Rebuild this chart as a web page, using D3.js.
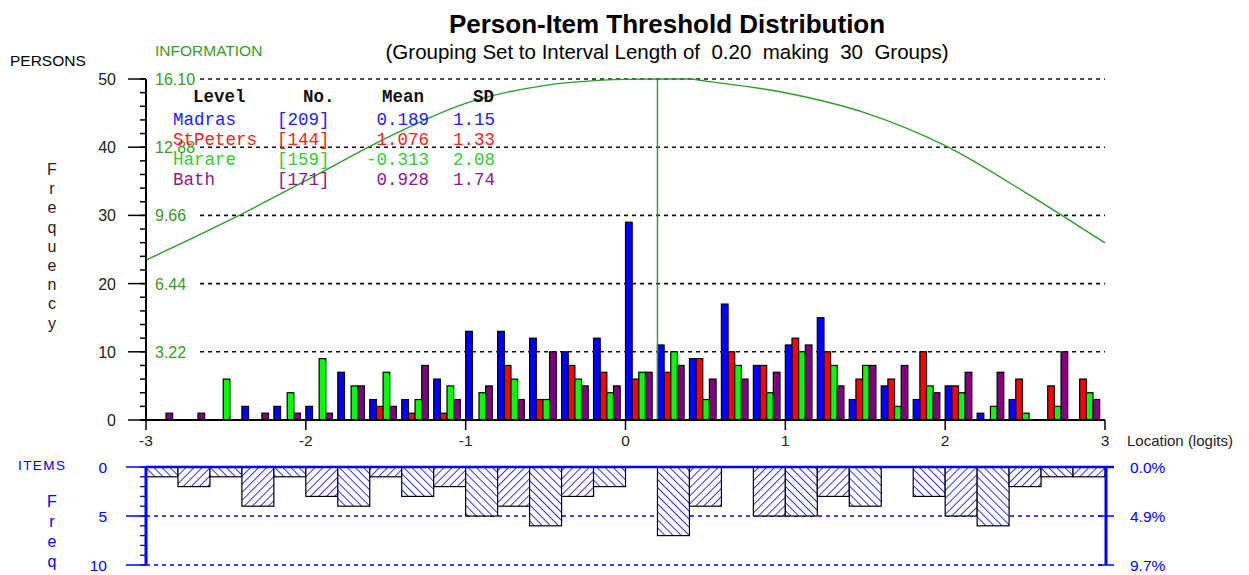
<!DOCTYPE html>
<html>
<head>
<meta charset="utf-8">
<script src="https://cdn.jsdelivr.net/npm/d3@7"></script>
<style>
  body { margin: 0; background: #fff; }
  svg { display: block; font-family: Arial, "Liberation Sans", sans-serif; }
</style>
</head>
<body>
<svg id="chart" width="1249" height="575"></svg>
<script>
// grouping: 30 intervals of 0.20 logits from -3 to 3
const intervalLength = 0.2;
const xTicks = [-3, -2, -1, 0, 1, 2, 3];
const personTicks = [0, 10, 20, 30, 40, 50];
const infoTicks = ["3.22", "6.44", "9.66", "12.88", "16.10"];

const madras   = [0,0,0,2,2,2,7,3,3,6,13,13,12,10,12,29,11,9,17,8,11,15,3,5,3,5,1,3,0,0];
const stPeters = [0,0,0,0,0,0,0,2,1,1,0,8,3,8,7,6,7,9,10,8,12,10,6,6,10,5,0,6,5,6];
const harare   = [0,0,6,0,4,9,5,7,3,5,4,6,3,6,4,7,10,3,8,4,10,8,8,2,5,4,2,1,2,4];
const bath     = [1,1,0,1,1,1,5,2,8,3,5,3,10,5,5,7,8,6,6,7,11,5,8,8,4,7,7,0,10,3];
const items    = [1,2,1,4,1,3,4,1,3,2,5,4,6,3,2,0,7,4,0,5,5,3,4,0,3,5,6,2,1,1];

// test information curve
const infoLoc = [-3, -2.5, -2, -1.5, -1, -0.5, 0, 0.2, 0.4, 0.5, 1, 1.5, 2, 2.5, 3];
const infoVal = [7.55, 9.35, 11.3, 13.3, 14.95, 15.8, 16.08, 16.1, 16.1, 16.0, 15.45, 14.5, 12.95, 10.75, 8.36];
const infoPeak = 0.2;

const levels = ["Madras", "StPeters", "Harare", "Bath"];
const counts = ["[209]", "[144]", "[159]", "[171]"];
const means  = ["0.189", "1.076", "-0.313", "0.928"];
const sds    = ["1.15", "1.33", "2.08", "1.74"];
const barColors  = ["#0000ff", "#ff0000", "#00ff00", "#800080"];
const textColors = ["#2020ff", "#ff2020", "#33cc33", "#8b1a8b"];

const itemTicks = [0, 5, 10];
const pctLabels = ["0.0%", "4.9%", "9.7%"];

const svg = d3.select("#chart");
const green = "#3a9a2a";
const blue = "#0000ff";

const x = d3.scaleLinear().domain([-3, 3]).range([146, 1105]);
const yP = d3.scaleLinear().domain([0, 50]).range([420, 79]);
const yInfo = d3.scaleLinear().domain([0, 16.10]).range([420, 79]);
const yI = d3.scaleLinear().domain([0, 10]).range([467, 565]);

// titles
svg.append("text").attr("x", 667).attr("y", 33).attr("text-anchor", "middle")
  .style("font-size", "26px").style("font-weight", "bold").text("Person-Item Threshold Distribution");
svg.append("text").attr("x", 667).attr("y", 59).attr("text-anchor", "middle")
  .style("font-size", "20.5px").attr("xml:space", "preserve")
  .text("(Grouping Set to Interval Length of  0.20  making  30  Groups)");

svg.append("text").attr("x", 10).attr("y", 66).style("font-size", "15.5px").text("PERSONS");
svg.append("text").attr("x", 155).attr("y", 56).style("font-size", "15.5px").attr("fill", green).text("INFORMATION");

// Frequency letters
"Frequency".split("").forEach((c, i) => {
  svg.append("text").attr("x", 52).attr("y", 175 + i * 19.2).attr("text-anchor", "middle")
    .style("font-size", "16px").attr("fill", "#222").text(c);
});

// dashed gridlines + info labels
personTicks.slice(1).forEach((t, i) => {
  svg.append("line").attr("x1", 200).attr("x2", 1105).attr("y1", yP(t)).attr("y2", yP(t))
    .attr("stroke", "#111").attr("stroke-width", 1.6).attr("stroke-dasharray", "4,4");
  svg.append("text").attr("x", 155).attr("y", yP(t) + 6).style("font-size", "16px")
    .attr("fill", green).text(infoTicks[i]);
});

// person bars
const series = [madras, stPeters, harare, bath];
const gw = x(-3 + intervalLength) - x(-3);
const bw = gw / 4.8;
series.forEach((s, si) => {
  svg.append("g").selectAll("rect").data(s.map((v, i) => ({v, i})).filter(d => d.v > 0)).join("rect")
    .attr("x", d => x(-3 + d.i * intervalLength) + si * bw)
    .attr("y", d => yP(d.v))
    .attr("width", bw)
    .attr("height", d => yP(0) - yP(d.v))
    .attr("fill", barColors[si])
    .attr("stroke", "#000").attr("stroke-width", 1.2);
});

// information curve
const line = d3.line().x((d, i) => x(infoLoc[i])).y(d => yInfo(d)).curve(d3.curveMonotoneX);
svg.append("path").datum(infoVal).attr("d", line)
  .attr("fill", "none").attr("stroke", "#2e9a2e").attr("stroke-width", 1.4);
svg.append("line").attr("x1", x(infoPeak)).attr("x2", x(infoPeak))
  .attr("y1", yInfo(16.10)).attr("y2", yP(0))
  .attr("stroke", "#2e9a2e").attr("stroke-width", 1.4);

// legend
const lg = svg.append("g").style("font-family", "'Liberation Mono', 'Courier New', monospace")
  .style("font-size", "17.5px");
[["Level", 193], ["No.", 303], ["Mean", 382], ["SD", 473]].forEach(h => {
  lg.append("text").attr("x", h[1]).attr("y", 102).attr("fill", "#111")
    .style("font-weight", "bold").text(h[0]);
});
levels.forEach((l, i) => {
  const yy = 125 + i * 20;
  lg.append("text").attr("x", 173).attr("y", yy).attr("fill", textColors[i]).text(l);
  lg.append("text").attr("x", 277).attr("y", yy).attr("fill", textColors[i]).text(counts[i]);
  lg.append("text").attr("x", 429).attr("y", yy).attr("text-anchor", "end").attr("fill", textColors[i]).text(means[i]);
  lg.append("text").attr("x", 453).attr("y", yy).attr("fill", textColors[i]).text(sds[i]);
});

// left person axis
svg.append("line").attr("x1", 146).attr("x2", 146).attr("y1", yP(50)).attr("y2", yP(0))
  .attr("stroke", "#000").attr("stroke-width", 2);
d3.range(0, 51, 2).forEach(t => {
  svg.append("line").attr("x1", 140).attr("x2", 146).attr("y1", yP(t)).attr("y2", yP(t))
    .attr("stroke", "#000").attr("stroke-width", 1.5);
});
personTicks.forEach(t => {
  svg.append("line").attr("x1", 128).attr("x2", 146).attr("y1", yP(t)).attr("y2", yP(t))
    .attr("stroke", "#000").attr("stroke-width", 1.5);
  svg.append("text").attr("x", 116).attr("y", yP(t) + 6).attr("text-anchor", "end")
    .style("font-size", "16px").attr("fill", "#222").text(t);
});

// x axis
svg.append("line").attr("x1", 140).attr("x2", 1105).attr("y1", yP(0)).attr("y2", yP(0))
  .attr("stroke", "#000").attr("stroke-width", 2);
xTicks.forEach(t => {
  svg.append("line").attr("x1", x(t)).attr("x2", x(t)).attr("y1", yP(0)).attr("y2", yP(0) + 10)
    .attr("stroke", "#000").attr("stroke-width", 1.5);
  svg.append("text").attr("x", x(t)).attr("y", 446).attr("text-anchor", "middle")
    .style("font-size", "15.5px").attr("fill", "#222").text(t);
});
svg.append("text").attr("x", 1127).attr("y", 446).style("font-size", "15px").attr("fill", "#222")
  .text("Location (logits)");

// item section: hatching patterns rotated both ways
const defs = svg.append("defs");
[["hatchBack", -45], ["hatchFwd", 45]].forEach(p => {
  const pt = defs.append("pattern").attr("id", p[0]).attr("patternUnits", "userSpaceOnUse")
    .attr("width", 5.7).attr("height", 5.7).attr("patternTransform", `rotate(${p[1]})`);
  pt.append("rect").attr("width", 5.7).attr("height", 5.7).attr("fill", "#fff");
  pt.append("line").attr("x1", 0).attr("x2", 0).attr("y1", 0).attr("y2", 5.7)
    .attr("stroke", blue).attr("stroke-width", 1.6);
});

[5, 10].forEach(t => {
  svg.append("line").attr("x1", 146).attr("x2", 1106).attr("y1", yI(t)).attr("y2", yI(t))
    .attr("stroke", blue).attr("stroke-width", 1.4).attr("stroke-dasharray", "4,4");
});

svg.append("g").selectAll("rect").data(items.map((v, i) => ({v, i})).filter(d => d.v > 0)).join("rect")
  .attr("x", d => x(-3 + d.i * intervalLength))
  .attr("y", yI(0))
  .attr("width", gw)
  .attr("height", d => yI(d.v) - yI(0))
  .attr("fill", d => d.i % 2 === 0 ? "url(#hatchBack)" : "url(#hatchFwd)")
  .attr("stroke", "#000").attr("stroke-width", 1.2);

svg.append("line").attr("x1", 146).attr("x2", 1114).attr("y1", yI(0)).attr("y2", yI(0))
  .attr("stroke", blue).attr("stroke-width", 2.5);
svg.append("line").attr("x1", 146).attr("x2", 146).attr("y1", yI(0)).attr("y2", yI(10))
  .attr("stroke", blue).attr("stroke-width", 3);
d3.range(0, 11).forEach(t => {
  svg.append("line").attr("x1", 140).attr("x2", 146).attr("y1", yI(t)).attr("y2", yI(t))
    .attr("stroke", blue).attr("stroke-width", 1.3);
});
itemTicks.forEach(t => {
  svg.append("line").attr("x1", 126).attr("x2", 146).attr("y1", yI(t)).attr("y2", yI(t))
    .attr("stroke", blue).attr("stroke-width", 1.5);
  svg.append("text").attr("x", 107).attr("y", yI(t) + 6).attr("text-anchor", "end")
    .style("font-size", "15.5px").attr("fill", blue).text(t);
});
svg.append("line").attr("x1", 1106).attr("x2", 1106).attr("y1", yI(0)).attr("y2", yI(10))
  .attr("stroke", blue).attr("stroke-width", 3);
itemTicks.forEach((t, i) => {
  svg.append("line").attr("x1", 1098).attr("x2", 1114).attr("y1", yI(t)).attr("y2", yI(t))
    .attr("stroke", blue).attr("stroke-width", 1.5);
  svg.append("text").attr("x", 1130).attr("y", yI(t) + 6).style("font-size", "15.5px")
    .attr("fill", blue).text(pctLabels[i]);
});
svg.append("text").attr("x", 18).attr("y", 470).style("font-size", "13.5px")
  .attr("fill", blue).attr("textLength", 47).text("ITEMS");
"Freq".split("").forEach((c, i) => {
  svg.append("text").attr("x", 52).attr("y", 507 + i * 20).attr("text-anchor", "middle")
    .style("font-size", "16px").attr("fill", blue).text(c);
});
</script>
</body>
</html>
